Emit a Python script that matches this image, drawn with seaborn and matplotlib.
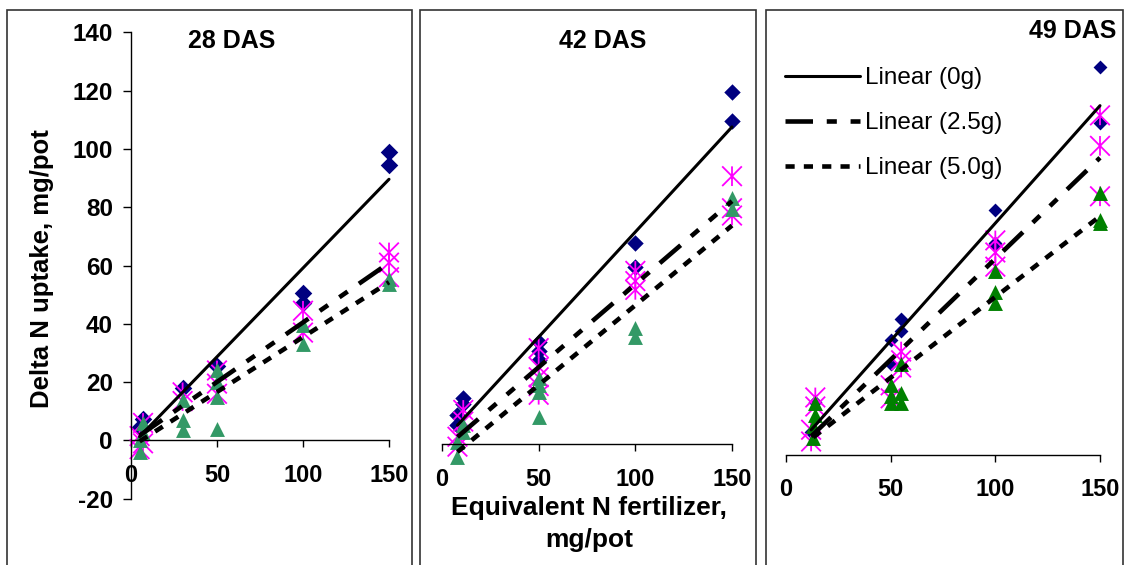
import numpy as np
import matplotlib
matplotlib.use('Agg')
import matplotlib.pyplot as plt
from matplotlib.path import Path
from matplotlib.patches import Rectangle
import seaborn as sns

# Data (Delta N uptake, mg/pot vs equivalent N, mg/pot)
# 28 DAS
p1_x0 = [5, 7, 30, 50, 100, 100, 150, 150]
p1_y0 = [4.5, 7.5, 18, 25.5, 50.5, 47, 99, 94.5]
p1_x25 = [5, 5, 7, 7, 30, 30, 50, 50, 50, 100, 100, 150, 150, 150]
p1_y25 = [1.5, -3, 6, -1, 16.5, 13.5, 24, 19.5, 16, 44.5, 37, 64.5, 61, 56]
p1_x50 = [5, 5, 7, 7, 30, 30, 30, 50, 50, 50, 50, 100, 100, 150, 150]
p1_y50 = [0, -4, 2.5, 6, 7, 3.5, 14, 15, 4, 20, 24, 39.5, 33, 55.5, 53.5]

# 42 DAS
p2_x0 = [8, 8, 11, 11, 50, 50, 50, 100, 100, 150, 150]
p2_y0 = [6.5, 10, 14, 16, 35, 32, 29, 69, 61, 121, 111]
p2_x25 = [8, 8, 11, 11, 50, 50, 50, 50, 50, 100, 100, 100, 150, 150, 150]
p2_y25 = [2.6, -0.8, 11.8, 7.8, 33, 26.5, 23, 20, 17, 59.5, 56, 53, 92, 81, 78.5]
p2_x50 = [8, 8, 11, 11, 50, 50, 50, 50, 100, 100, 150, 150]
p2_y50 = [0.9, -4.3, 4.3, 6.5, 22.6, 20.3, 18, 9.5, 40, 36.8, 84.5, 80.7]

# 49 DAS
p3_x0 = [12, 14, 50, 50, 55, 55, 100, 100, 100, 150, 150]
p3_y0 = [7.7, 17.6, 38, 30, 45, 41, 81, 70, 69.5, 128.5, 110]
p3_x25 = [12, 12, 14, 14, 50, 50, 55, 55, 55, 100, 100, 100, 150, 150, 150]
p3_y25 = [4.4, 8.3, 16, 19, 23, 18.7, 34.2, 31.3, 28.9, 71, 67, 62.3, 112.4, 102.3, 85.6]
p3_x50 = [13, 13, 14, 14, 50, 50, 50, 55, 55, 55, 100, 100, 100, 150, 150, 150]
p3_y50 = [5.6, 9.4, 13.2, 17.2, 23, 19.5, 17, 30, 20.5, 17.2, 61, 54, 50.4, 86.8, 77.8, 76.6]

titles = ['28 DAS', '42 DAS', '49 DAS']
legend_labels = ['Linear (0g)', 'Linear (2.5g)', 'Linear (5.0g)']
x_ticks = [0, 50, 100, 150]
y_ticks = [-20, 0, 20, 40, 60, 80, 100, 120, 140]

sns.set_theme(style='white')
plt.rcParams['font.family'] = ['Liberation Sans', 'DejaVu Sans']
plt.rcParams['text.color'] = 'black'
plt.rcParams['xtick.color'] = 'black'
plt.rcParams['ytick.color'] = 'black'

W, H = 1126, 565
fig = plt.figure(figsize=(11.26, 5.65), dpi=100)


def fx(px):
    return px / W


def fy(py):
    return 1 - py / H


# plot areas in pixels: x0, x1 (0..150), y_top, y_bottom
axes_px = [(131, 389, 32.4, 498.7), (442, 732, 36.3, 502.6), (786, 1100, 32.0, 454.8)]
ylims = [(-20, 140), (-20, 140), (0, 140)]
panels = [
    (p1_x0, p1_y0, p1_x25, p1_y25, p1_x50, p1_y50),
    (p2_x0, p2_y0, p2_x25, p2_y25, p2_x50, p2_y50),
    (p3_x0, p3_y0, p3_x25, p3_y25, p3_x50, p3_y50),
]
tri_colors = ['#339966', '#339966', '#008000']
diam_sizes = [80, 70, 50]

star = Path([(-1, -1), (1, 1), (-1, 1), (1, -1), (0, -1), (0, 1)],
            [Path.MOVETO, Path.LINETO, Path.MOVETO, Path.LINETO, Path.MOVETO, Path.LINETO])

line_styles = [dict(lw=2.2, linestyle='-'),
               dict(lw=3.3, dashes=(6, 3, 2.2, 3, 2.2, 3)),
               dict(lw=3.3, dashes=(2, 2))]

axes = []
for i, (x0p, x1p, ytp, ybp) in enumerate(axes_px):
    ax = fig.add_axes([fx(x0p), fy(ybp), (x1p - x0p) / W, (ybp - ytp) / H])
    axes.append(ax)
    a_x, a_y, b_x, b_y, c_x, c_y = panels[i]

    sns.scatterplot(x=a_x, y=a_y, marker='D', s=diam_sizes[i], color='#000080',
                    edgecolor='#000080', linewidth=0, clip_on=False, legend=False, ax=ax)
    sns.scatterplot(x=b_x, y=b_y, marker=star, s=200, color='#FF00FF', facecolor='none',
                    edgecolor='#FF00FF', linewidth=1.3, clip_on=False, legend=False, ax=ax)
    sns.scatterplot(x=c_x, y=c_y, marker='^', s=115, color=tri_colors[i],
                    edgecolor=tri_colors[i], linewidth=0, clip_on=False, legend=False, ax=ax)

    for (sx, sy), st in zip([(a_x, a_y), (b_x, b_y), (c_x, c_y)], line_styles):
        sns.regplot(x=np.array(sx, float), y=np.array(sy, float), scatter=False, ci=None,
                    truncate=True, color='black', line_kws=dict(clip_on=False, **st), ax=ax)

    ax.set_xlim(0, 150)
    ax.set_ylim(*ylims[i])
    ax.set_xlabel('')
    ax.set_ylabel('')
    for s in ['top', 'right']:
        ax.spines[s].set_visible(False)
    ax.spines['bottom'].set_position(('data', 0))
    ax.spines['bottom'].set_color('black')
    ax.spines['bottom'].set_linewidth(1.0)
    ax.set_xticks(x_ticks)
    ax.set_xticklabels([str(t) for t in x_ticks], fontweight='bold', fontsize=17)
    ax.tick_params(axis='x', bottom=True, direction='out', length=5, width=1,
                   color='black', pad=12)
    if i == 0:
        ax.spines['left'].set_color('black')
        ax.spines['left'].set_linewidth(1.0)
        ax.set_yticks(y_ticks)
        ax.set_yticklabels([str(t) for t in y_ticks], fontweight='bold', fontsize=17.5)
        ax.tick_params(axis='y', left=True, direction='out', length=6, width=1,
                       color='black', pad=7)
    else:
        ax.spines['left'].set_visible(False)
        ax.set_yticks([])
    ax.patch.set_alpha(0)

# legend in the third panel
leg = axes[2].legend(handles=axes[2].get_lines()[:3], labels=legend_labels,
                     loc='upper left', bbox_to_anchor=(fx(785), fy(67)),
                     bbox_transform=fig.transFigure, frameon=False, fontsize=17.5,
                     handlelength=3.1, handletextpad=0.2, labelspacing=0.95,
                     borderpad=0, borderaxespad=0)

# panel titles
fig.text(fx(232), fy(41.4), titles[0], ha='center', va='center', fontsize=18, fontweight='bold')
fig.text(fx(603), fy(41.4), titles[1], ha='center', va='center', fontsize=18, fontweight='bold')
fig.text(fx(1073), fy(30.6), titles[2], ha='center', va='center', fontsize=18, fontweight='bold')

# axis labels
fig.text(fx(42), fy(269), 'Delta N uptake, mg/pot', rotation=90, ha='center', va='center',
         fontsize=18.5, fontweight='bold')
fig.text(fx(589), fy(524), 'Equivalent N fertilizer,\nmg/pot', ha='center', va='center',
         fontsize=19, fontweight='bold', linespacing=1.4)

# panel frames
for x0p, x1p in [(7, 412), (420, 756), (766, 1123)]:
    fig.add_artist(Rectangle((fx(x0p), fy(580)), (x1p - x0p) / W, (580 - 9.7) / H,
                             transform=fig.transFigure, fill=False, lw=1.2, ec='#333333'))

fig.savefig('out.png', dpi=100)
